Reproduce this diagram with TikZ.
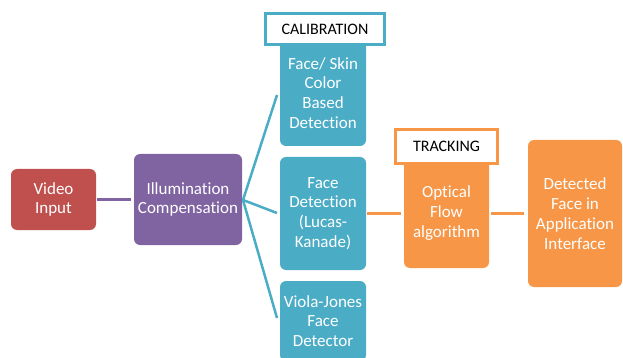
\documentclass[tikz,border=0pt]{standalone}
\usepackage{fontspec}
\setmainfont{Carlito}[Ligatures=NoCommon]
\definecolor{cred}{HTML}{C0504D}
\definecolor{cpurple}{HTML}{8064A2}
\definecolor{cteal}{HTML}{4BACC6}
\definecolor{corange}{HTML}{F79646}
\tikzset{
  blk/.style={rectangle, rounded corners=6pt, draw=none, text=white, align=center,
    font=\fontsize{17}{19.8}\selectfont, inner sep=0pt},
  lbl/.style={rectangle, fill=white, line width=3pt, text=black, align=center,
    font=\fontsize{16}{18}\selectfont, inner sep=0pt},
  conn/.style={line width=3pt}
}
\begin{document}
\begin{tikzpicture}[x=1pt,y=-1pt]
\useasboundingbox (0,0) rectangle (623,358);
\clip (0,0) rectangle (623,358);
% blocks
\node[blk, fill=cred, minimum width=85pt, minimum height=61pt] (video) at (53.5,199.5) {Video\\Input};
\node[blk, fill=cpurple, minimum width=108pt, minimum height=91pt] (illum) at (188,199.5) {Illumination\\Compensation};
\node[blk, fill=cteal, minimum width=86pt, minimum height=106pt] (skin) at (323,93) {Face/ Skin\\Color\\Based\\Detection};
\node[blk, fill=cteal, minimum width=86pt, minimum height=113pt] (lk) at (323,213.5) {Face\\Detection\\(Lucas-\\Kanade)};
\node[blk, fill=cteal, minimum width=86pt, minimum height=80pt] (vj) at (323,321) {Viola-Jones\\Face\\Detector};
\node[blk, fill=corange, minimum width=85pt, minimum height=110pt] (of) at (446.5,213) {Optical\\Flow\\algorithm};
\node[blk, fill=corange, minimum width=94pt, minimum height=147pt] (det) at (575,213.5) {Detected\\Face in\\Application\\Interface};
% labels
\node[lbl, draw=cteal, minimum width=119pt, minimum height=31pt] (calib) at (325,29) {CALIBRATION};
\node[lbl, draw=corange, minimum width=102pt, minimum height=34pt] (track) at (446.5,146.5) {TRACKING};
% connectors
\coordinate (fan) at (243,200);
\draw[conn, cpurple] (video.east) ++(1pt,0) -- ([xshift=-3pt]illum.west);
\draw[line width=2.5pt, cteal] (fan) -- (277,95);
\draw[line width=2.5pt, cteal] (fan) -- (277,213);
\draw[line width=2.5pt, cteal] (fan) -- (277,318);
\draw[conn, corange] ([xshift=1pt]lk.east |- of.west) -- ([xshift=-3pt]of.west);
\draw[conn, corange] ([xshift=2pt]of.east) -- ([xshift=-4pt]det.west |- of.west);
\end{tikzpicture}
\end{document}
